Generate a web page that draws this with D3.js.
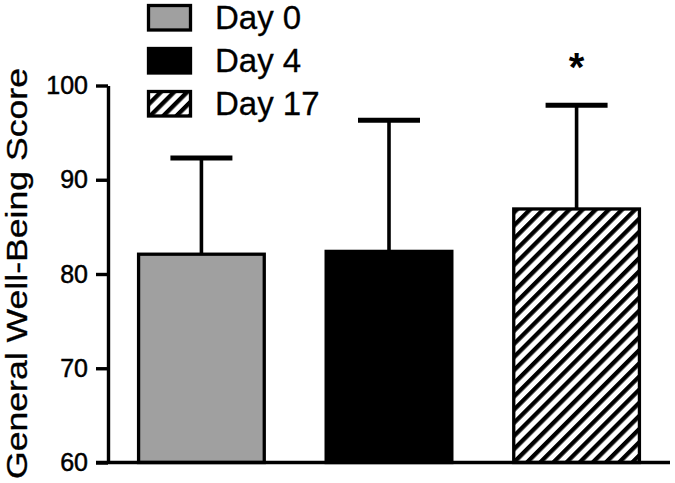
<!DOCTYPE html>
<html>
<head>
<meta charset="utf-8">
<script src="https://cdn.jsdelivr.net/npm/d3@7"></script>
<style>
  html, body { margin: 0; padding: 0; background: #fff; }
  svg { display: block; font-family: "Liberation Sans", Arial, sans-serif; }
</style>
</head>
<body>
<svg id="chart" width="675" height="483"></svg>
<script>
// ---- data ----
const categories = ["Day 0", "Day 4", "Day 17"];
const means = [82.1, 82.4, 86.9];
const errors = [10.2, 13.9, 11.0];
const significant = [false, false, true];
const yTicks = [60, 70, 80, 90, 100];
const yDomain = [60, 100];
const yTitle = "General Well-Being Score";

// ---- layout ----
const svg = d3.select("#chart");
const axisX = 108, axisBottom = 462.5, axisTop = 85.5, axisRight = 670;

const y = d3.scaleLinear().domain(yDomain).range([axisBottom, axisTop]);
const x = d3.scaleBand().domain(categories)
  .range([axisX, axisRight]).paddingInner(0.33).paddingOuter(0.163);

// patterns
const defs = svg.append("defs");
const pat = defs.append("pattern")
  .attr("id", "hatch").attr("patternUnits", "userSpaceOnUse")
  .attr("width", 9.3).attr("height", 9.3)
  .attr("patternTransform", "rotate(45)");
pat.append("rect").attr("width", 9.3).attr("height", 9.3).attr("fill", "#fff");
pat.append("rect").attr("x", 0).attr("y", 0).attr("width", 4.3).attr("height", 9.3).attr("fill", "#000");

const fills = ["#a0a0a0", "#000", "url(#hatch)"];

// bars
svg.append("g").selectAll("rect").data(categories).join("rect")
  .attr("x", d => x(d))
  .attr("y", (d, i) => y(means[i]))
  .attr("width", x.bandwidth())
  .attr("height", (d, i) => axisBottom - y(means[i]))
  .attr("fill", (d, i) => fills[i])
  .attr("stroke", "#000")
  .attr("stroke-width", 3.3);

// error bars
const eb = svg.append("g");
categories.forEach((c, i) => {
  const cx = x(c) + x.bandwidth() / 2;
  eb.append("line")
    .attr("x1", cx).attr("x2", cx)
    .attr("y1", y(means[i])).attr("y2", y(means[i] + errors[i]))
    .attr("stroke", "#000").attr("stroke-width", 3.6);
  eb.append("line")
    .attr("x1", cx - 31).attr("x2", cx + 31)
    .attr("y1", y(means[i] + errors[i])).attr("y2", y(means[i] + errors[i]))
    .attr("stroke", "#000").attr("stroke-width", 5);
  if (significant[i]) {
    eb.append("text")
      .attr("x", cx).attr("y", y(means[i] + errors[i]) - 24)
      .attr("text-anchor", "middle")
      .attr("font-size", 40)
      .attr("font-weight", "bold")
      .text("*");
  }
});

// y axis
const yAxis = svg.append("g")
  .attr("transform", `translate(${axisX},0)`)
  .call(d3.axisLeft(y).tickValues(yTicks).tickSize(12).tickSizeOuter(0).tickPadding(8));
yAxis.select(".domain").attr("stroke", "#000").attr("stroke-width", 3.4);
yAxis.selectAll(".tick line").attr("stroke", "#000").attr("stroke-width", 3.4);
yAxis.selectAll(".tick text")
  .attr("font-size", 25)
  .attr("font-family", "Liberation Sans, Arial, sans-serif")
  .attr("fill", "#000")
  .attr("stroke", "#000").attr("stroke-width", 0.5);

// x axis line
svg.append("line")
  .attr("x1", axisX - 12).attr("x2", axisRight)
  .attr("y1", axisBottom).attr("y2", axisBottom)
  .attr("stroke", "#000").attr("stroke-width", 3.4);

// y title
svg.append("text")
  .attr("transform", `translate(27,${(68 + 479) / 2}) rotate(-90)`)
  .attr("text-anchor", "middle")
  .attr("font-size", 30)
  .attr("textLength", 411)
  .attr("lengthAdjust", "spacingAndGlyphs")
  .attr("fill", "#000")
  .attr("stroke", "#000").attr("stroke-width", 0.3)
  .text(yTitle);

// legend
const leg = svg.append("g");
categories.forEach((c, i) => {
  const top = 4 + i * 43;
  leg.append("rect")
    .attr("x", 148.5).attr("y", top + 1.5)
    .attr("width", 42).attr("height", 24.5)
    .attr("fill", fills[i]).attr("stroke", "#000").attr("stroke-width", 3.3);
  leg.append("text")
    .attr("x", 215).attr("y", top + 25)
    .attr("font-size", 33)
    .attr("fill", "#000")
    .attr("stroke", "#000").attr("stroke-width", 0.3)
    .text(c);
});
</script>
</body>
</html>
